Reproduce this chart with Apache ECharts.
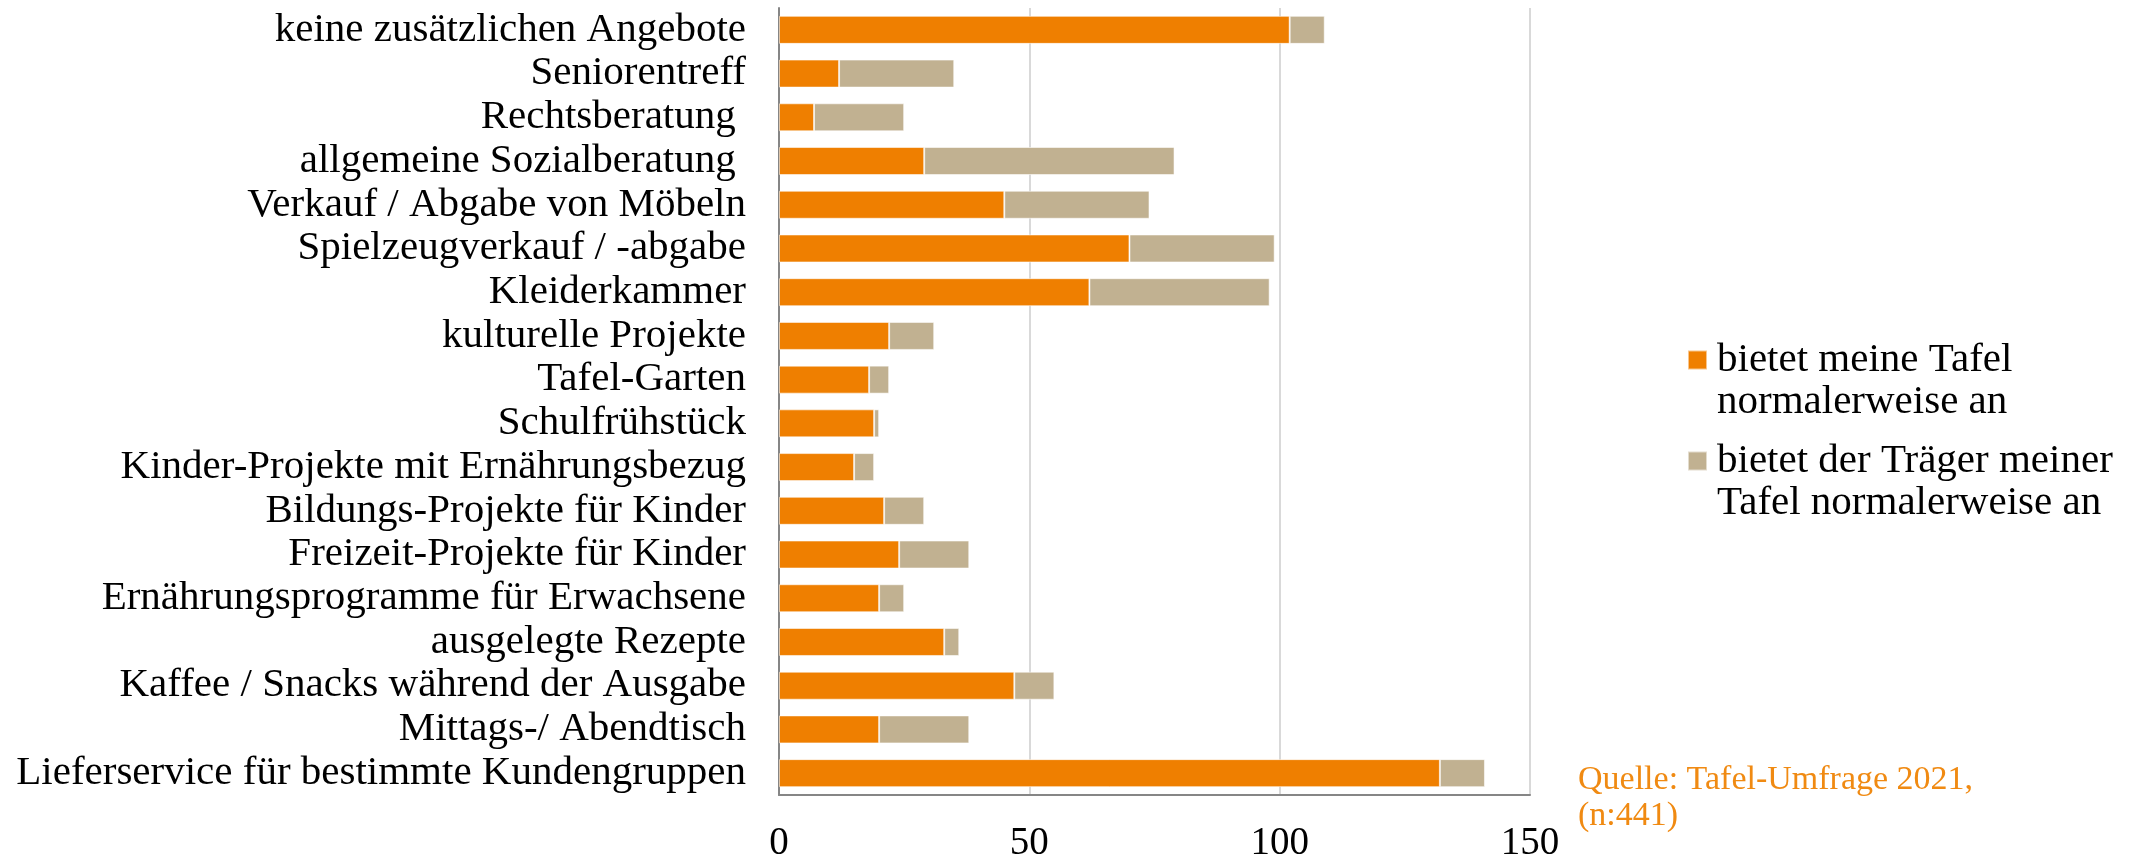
<!DOCTYPE html>
<html>
<head>
<meta charset="utf-8">
<script src="https://cdn.jsdelivr.net/npm/echarts@6/dist/echarts.min.js"></script>
<style>
  html, body { margin: 0; padding: 0; background: #fff; }
  #chart { width: 2144px; height: 863px; }
</style>
</head>
<body>
<div id="chart"></div>
<script>
const categories = [
  'keine zusätzlichen Angebote',
  'Seniorentreff',
  'Rechtsberatung ',
  'allgemeine Sozialberatung ',
  'Verkauf / Abgabe von Möbeln',
  'Spielzeugverkauf / -abgabe',
  'Kleiderkammer',
  'kulturelle Projekte',
  'Tafel-Garten',
  'Schulfrühstück',
  'Kinder-Projekte mit Ernährungsbezug',
  'Bildungs-Projekte für Kinder',
  'Freizeit-Projekte für Kinder',
  'Ernährungsprogramme für Erwachsene',
  'ausgelegte Rezepte',
  'Kaffee / Snacks während der Ausgabe',
  'Mittags-/ Abendtisch',
  'Lieferservice für bestimmte Kundengruppen'
];
const seriesNames = [
  'bietet meine Tafel\nnormalerweise an',
  'bietet der Träger meiner\nTafel normalerweise an'
];
const ownValues     = [102, 12, 7, 29, 45, 70, 62, 22, 18, 19, 15, 21, 24, 20, 33, 47, 20, 132];
const carrierValues = [  7, 23, 18, 50, 29, 29, 36,  9,  4,  1,  4,  8, 14,  5,  3,  8, 18,   9];
const xTicks = [0, 50, 100, 150];
const sourceText = 'Quelle: Tafel-Umfrage 2021,\n(n:441)';

const FONT = "'Liberation Serif', 'DejaVu Serif', serif";
const ORANGE = '#EF7F00';
const TAN = '#C1B191';

const chart = echarts.init(document.getElementById('chart'), null, { renderer: 'canvas' });

const legendBase = {
  orient: 'vertical',
  left: 1687,
  padding: 0,
  itemWidth: 19,
  itemHeight: 19,
  itemGap: 0,
  icon: 'rect',
  selectedMode: false,
  // leading empty line keeps the icon level with the first text line
  formatter: function (name) { return '\n' + name; },
  textStyle: {
    fontFamily: FONT,
    fontSize: 41,
    lineHeight: 42,
    color: '#000',
    padding: [0, 0, 0, 5]
  }
};

chart.setOption({
  animation: false,
  backgroundColor: '#fff',
  grid: { left: 779, right: 614, top: 8, bottom: 64, containLabel: false },
  legend: [
    Object.assign({}, legendBase, { data: [seriesNames[0]], top: 297 }),
    Object.assign({}, legendBase, { data: [seriesNames[1]], top: 398 })
  ],
  xAxis: {
    type: 'value',
    min: xTicks[0],
    max: xTicks[xTicks.length - 1],
    interval: xTicks[1] - xTicks[0],
    axisLine: { show: true, lineStyle: { color: '#868686', width: 2 } },
    axisTick: { show: false },
    axisLabel: {
      fontFamily: FONT, fontSize: 39, color: '#000', margin: 29
    },
    splitLine: { show: true, lineStyle: { color: '#D9D9D9', width: 2 } }
  },
  yAxis: {
    type: 'category',
    data: categories,
    inverse: true,
    axisLine: { show: true, lineStyle: { color: '#868686', width: 2 } },
    axisTick: { show: false },
    axisLabel: {
      interval: 0,
      fontFamily: FONT, fontSize: 41, color: '#000', margin: 33
    }
  },
  series: [
    {
      name: seriesNames[0],
      type: 'bar',
      stack: 'total',
      data: ownValues,
      barWidth: 28,
      itemStyle: { color: ORANGE, borderColor: 'rgba(255,255,255,0.55)', borderWidth: 1 }
    },
    {
      name: seriesNames[1],
      type: 'bar',
      stack: 'total',
      data: carrierValues,
      barWidth: 28,
      itemStyle: { color: TAN, borderColor: 'rgba(255,255,255,0.55)', borderWidth: 1 }
    }
  ],
  graphic: [
    {
      type: 'text',
      left: 1578,
      top: 762,
      style: {
        text: sourceText,
        fill: '#F08A12',
        font: "34px 'Liberation Serif', 'DejaVu Serif', serif",
        lineHeight: 36
      }
    }
  ]
});
</script>
</body>
</html>
